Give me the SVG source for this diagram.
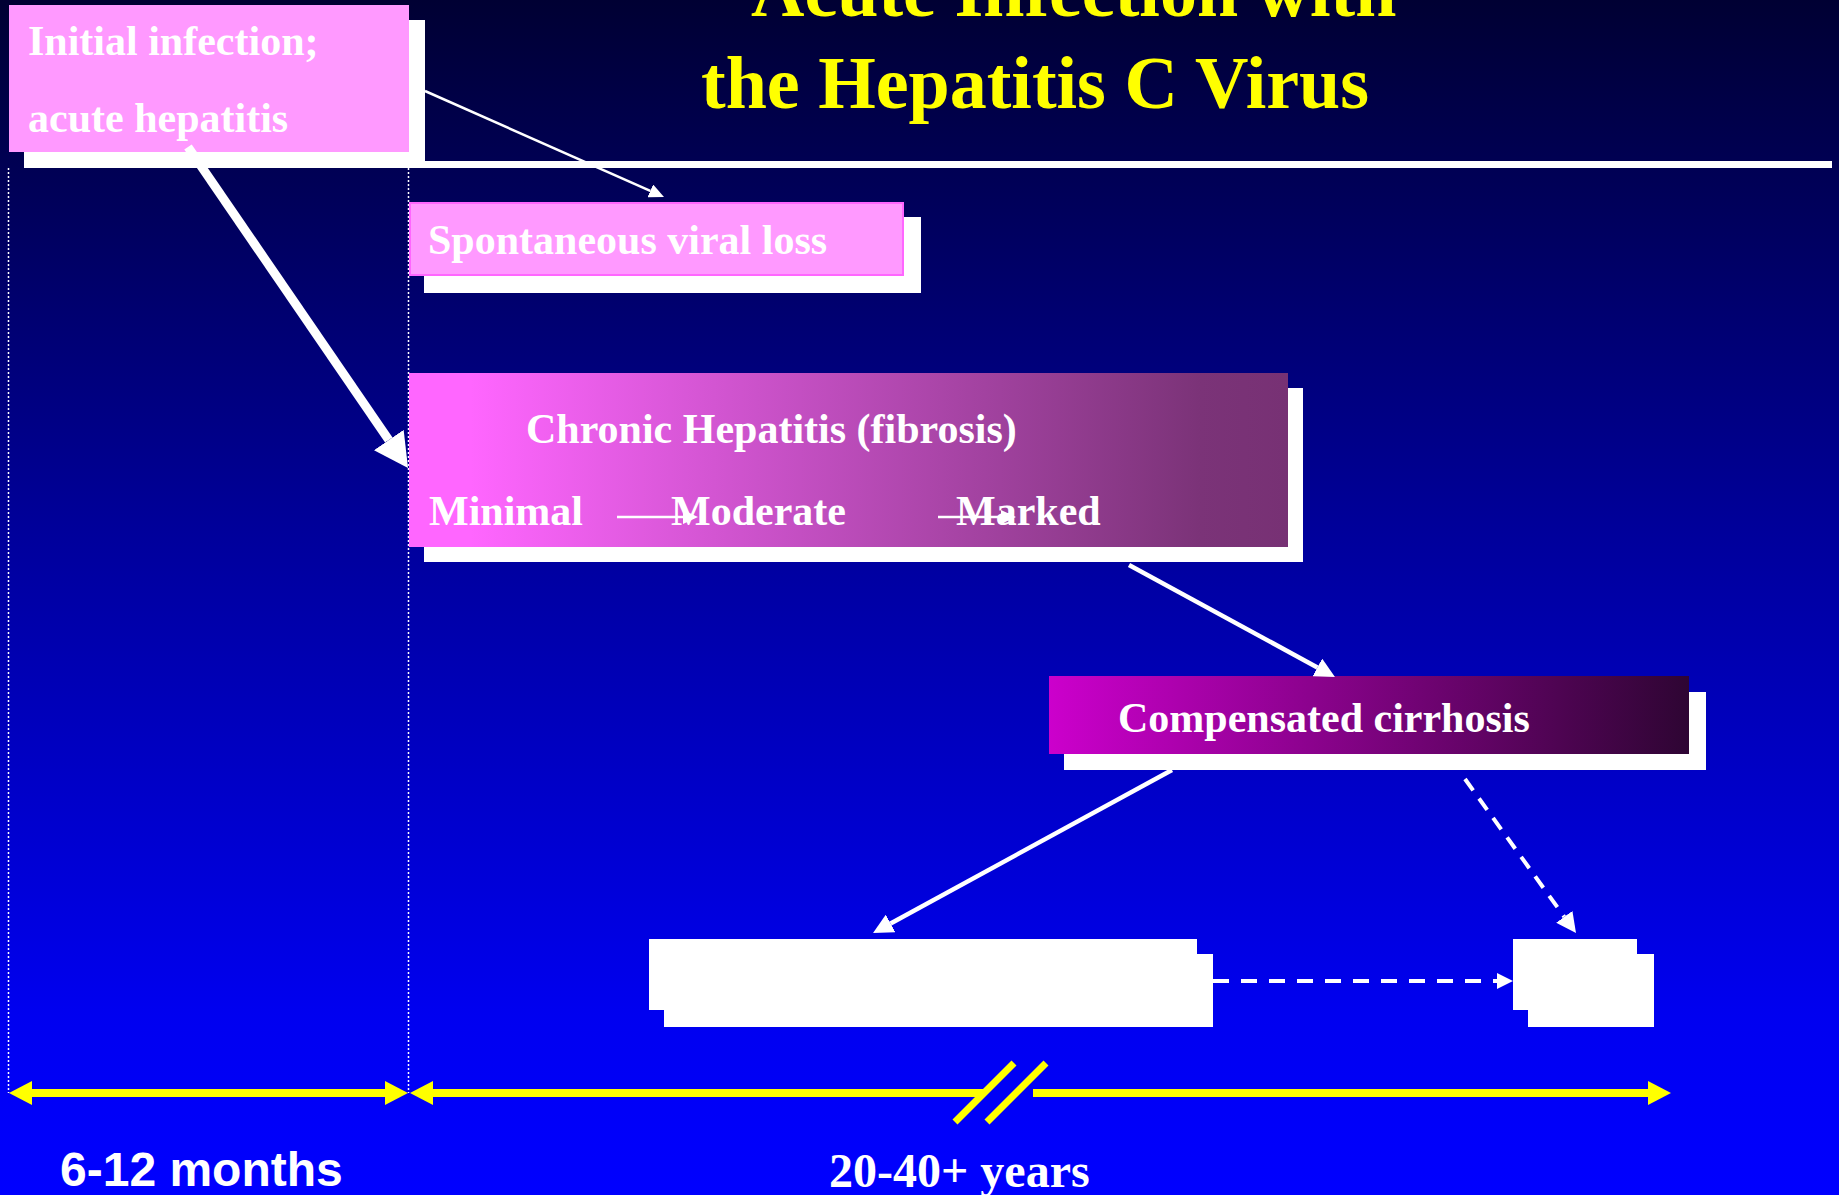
<svg xmlns="http://www.w3.org/2000/svg" width="1839" height="1195" viewBox="0 0 1839 1195">
  <defs>
    <linearGradient id="bg" x1="0" y1="0" x2="0" y2="1">
      <stop offset="0" stop-color="#000033"/>
      <stop offset="0.45" stop-color="#00009C"/>
      <stop offset="0.85" stop-color="#0000F0"/>
      <stop offset="1" stop-color="#0000FF"/>
    </linearGradient>
    <linearGradient id="gChronic" x1="0" y1="0" x2="1" y2="0">
      <stop offset="0" stop-color="#FF66FF"/>
      <stop offset="0.07" stop-color="#FF66FF"/>
      <stop offset="0.9" stop-color="#7B3378"/>
      <stop offset="1" stop-color="#773174"/>
    </linearGradient>
    <linearGradient id="gComp" x1="0" y1="0" x2="1" y2="0">
      <stop offset="0" stop-color="#CC00CC"/>
      <stop offset="1" stop-color="#2E0533"/>
    </linearGradient>
    <marker id="hBig" markerUnits="userSpaceOnUse" markerWidth="34" markerHeight="36" viewBox="0 0 34 36" refX="0" refY="18" orient="auto">
      <path d="M0,0 L34,18 L0,36 Z" fill="#FFFFFF"/>
    </marker>
    <marker id="hMed" markerUnits="userSpaceOnUse" markerWidth="20" markerHeight="20" viewBox="0 0 20 20" refX="0" refY="10" orient="auto">
      <path d="M0,0 L20,10 L0,20 Z" fill="#FFFFFF"/>
    </marker>
    <marker id="hDash" markerUnits="userSpaceOnUse" markerWidth="16" markerHeight="16" viewBox="0 0 16 16" refX="0" refY="8" orient="auto">
      <path d="M0,0 L16,8 L0,16 Z" fill="#FFFFFF"/>
    </marker>
    <marker id="hSmall" markerUnits="userSpaceOnUse" markerWidth="15" markerHeight="14" viewBox="0 0 15 14" refX="0" refY="7" orient="auto">
      <path d="M0,0 L15,7 L0,14 Z" fill="#FFFFFF"/>
    </marker>
    <marker id="hYellow" markerUnits="userSpaceOnUse" markerWidth="23" markerHeight="24" viewBox="0 0 23 24" refX="0" refY="12" orient="auto-start-reverse">
      <path d="M0,0 L23,12 L0,24 Z" fill="#FFFF00"/>
    </marker>
  </defs>
  <style>
    .serif { font-family: "Liberation Serif", "Times New Roman", serif; font-weight: bold; }
    .title { fill: #FFFF00; font-size: 74px; }
    .lbl { fill: #FFFFFF; font-size: 42px; }
    .big { fill: #FFFFFF; font-size: 48px; }
    .sans { font-family: "Liberation Sans", Arial, sans-serif; font-weight: bold; fill: #FFFFFF; font-size: 48px; }
    .shadow { fill: #FFFFFF; }
    .conn { stroke: #FFFFFF; fill: none; }
    .dot { stroke: #FFFFFF; stroke-width: 1.5; stroke-dasharray: 2 2; fill: none; }
    .tl { stroke: #FFFF00; stroke-width: 8; fill: none; }
    .slash { stroke: #FFFF00; stroke-width: 7; stroke-linecap: butt; }
  </style>

  <rect x="0" y="0" width="1839" height="1195" fill="url(#bg)"/>

  <g id="title">
    <text class="serif title" x="751" y="16">Acute Infection with</text>
    <text class="serif title" x="701" y="108">the Hepatitis C Virus</text>
  </g>
  <rect id="title-rule" x="24" y="161" width="1808" height="7" fill="#FFFFFF"/>

  <g id="guides">
    <line class="dot" x1="8.5" y1="168" x2="8.5" y2="1093"/>
    <line class="dot" x1="408.5" y1="168" x2="408.5" y2="1093"/>
  </g>

  <g id="node-initial">
    <rect class="shadow" x="24" y="20" width="401" height="148"/>
    <rect x="9" y="5" width="400" height="147" fill="#FF99FF"/>
    <text class="serif lbl" x="28" y="55">Initial infection;</text>
    <text class="serif lbl" x="28" y="132">acute hepatitis</text>
  </g>

  <g id="node-spontaneous">
    <rect class="shadow" x="424" y="217" width="497" height="76"/>
    <rect x="410" y="203" width="493" height="72" fill="#FF99FF" stroke="#FF66FF" stroke-width="2"/>
    <text class="serif lbl" x="428" y="254">Spontaneous viral loss</text>
  </g>

  <g id="node-chronic">
    <rect class="shadow" x="424" y="388" width="879" height="174"/>
    <rect x="409" y="373" width="879" height="174" fill="url(#gChronic)"/>
    <text class="serif lbl" x="526" y="443">Chronic Hepatitis (fibrosis)</text>
    <text class="serif lbl" x="429" y="525">Minimal</text>
    <text class="serif lbl" x="671" y="525">Moderate</text>
    <text class="serif lbl" x="956" y="525">Marked</text>
  </g>

  <g id="node-compensated">
    <rect class="shadow" x="1064" y="692" width="642" height="78"/>
    <rect x="1049" y="676" width="640" height="78" fill="url(#gComp)"/>
    <text class="serif lbl" x="1118" y="732">Compensated cirrhosis</text>
  </g>

  <g id="node-outcome-1">
    <rect class="shadow" x="664" y="954" width="549" height="73"/>
    <rect x="649" y="939" width="548" height="71" fill="#FFFFFF"/>
  </g>

  <g id="node-outcome-2">
    <rect class="shadow" x="1528" y="954" width="126" height="73"/>
    <rect x="1513" y="939" width="124" height="71" fill="#FFFFFF"/>
  </g>

  <g id="connectors">
    <line class="conn" x1="188" y1="147" x2="388.8" y2="440" stroke-width="9" marker-end="url(#hBig)"/>
    <line class="conn" x1="425" y1="91" x2="650.3" y2="190.9" stroke-width="2.5" marker-end="url(#hSmall)"/>
    <line class="conn" x1="617" y1="517" x2="683" y2="517" stroke-width="2.5" marker-end="url(#hSmall)"/>
    <line class="conn" x1="938" y1="517" x2="1001" y2="517" stroke-width="2.5" marker-end="url(#hSmall)"/>
    <line class="conn" x1="1129" y1="565" x2="1317.4" y2="667.4" stroke-width="4.5" marker-end="url(#hMed)"/>
    <line class="conn" x1="1172" y1="770" x2="890.6" y2="923.4" stroke-width="4.5" marker-end="url(#hMed)"/>
    <line class="conn" x1="1465" y1="779" x2="1564.3" y2="916.8" stroke-width="4" stroke-dasharray="14 10" marker-end="url(#hMed)"/>
    <line class="conn" x1="1213" y1="981" x2="1497" y2="981" stroke-width="4" stroke-dasharray="16 12" marker-end="url(#hDash)"/>
  </g>

  <g id="timeline">
    <line class="tl" x1="32" y1="1093" x2="385" y2="1093" marker-start="url(#hYellow)" marker-end="url(#hYellow)"/>
    <path class="tl" d="M433,1093 H983 M1033,1093 H1648" marker-start="url(#hYellow)" marker-end="url(#hYellow)"/>
    <line class="slash" x1="1014" y1="1063" x2="955" y2="1122"/>
    <line class="slash" x1="1046" y1="1063" x2="987" y2="1122"/>
    <text class="sans" x="60" y="1186">6-12 months</text>
    <text class="serif big" x="829" y="1187">20-40+ years</text>
  </g>
</svg>
